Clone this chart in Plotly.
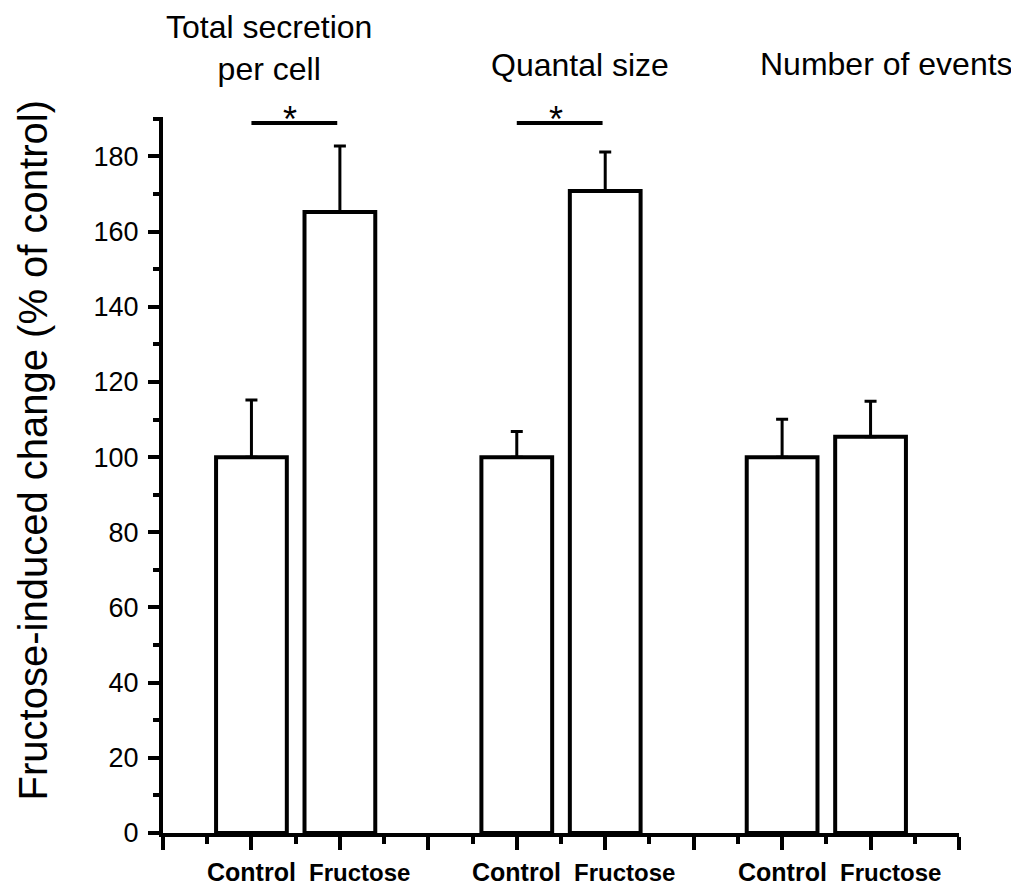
import plotly.graph_objects as go

# ---- data ----
groups = ["Total secretion<br>per cell", "Quantal size", "Number of events"]
conditions = ["Control", "Fructose"]
control_vals = [100, 100, 100]
fructose_vals = [165.2, 170.8, 105.4]
control_err = [15.2, 6.8, 10.1]
fructose_err = [17.6, 10.4, 9.5]
sig_groups = [0, 1]          # groups with significant difference
sig_level = 188.9            # height of significance bar
y_ticks = list(range(0, 181, 20))

# ---- positions ----
group_pos = [1 + 3 * g for g in range(len(groups))]
x_ctrl = [p for p in group_pos]
x_fru = [p + 1 for p in group_pos]

FONT = "Liberation Sans, Arial, sans-serif"

fig = go.Figure()
xs, ys, es = [], [], []
for g in range(len(groups)):
    xs += [x_ctrl[g], x_fru[g]]
    ys += [control_vals[g], fructose_vals[g]]
    es += [control_err[g], fructose_err[g]]

fig.add_trace(go.Bar(
    x=xs, y=ys, width=0.8,
    marker=dict(color="white", line=dict(color="black", width=4)),
    error_y=dict(type="data", symmetric=False, array=es, arrayminus=[0] * len(es),
                 color="black", thickness=3, width=6),
    showlegend=False, hoverinfo="skip",
))

annotations = []
# category labels under the bars
for g in range(len(groups)):
    annotations.append(dict(x=x_ctrl[g], y=-0.0545, xref="x", yref="paper", text=conditions[0],
                            showarrow=False, yanchor="middle",
                            font=dict(family=FONT, size=25, color="black", weight="bold")))
    annotations.append(dict(x=x_fru[g] + 0.22, y=-0.0545, xref="x", yref="paper", text=conditions[1],
                            showarrow=False, yanchor="middle",
                            font=dict(family=FONT, size=24, color="black", weight="bold")))

# group titles
title_x = [1.2, 4.72, 8.18]
title_y = [1.097, 1.0725, 1.0735]
for g in range(len(groups)):
    annotations.append(dict(x=title_x[g], y=title_y[g], xref="x", yref="paper", text=groups[g],
                            showarrow=False, yanchor="middle",
                            font=dict(family=FONT, size=32, color="black")))

# significance bars
shapes = []
for g in sig_groups:
    shapes.append(dict(type="line", xref="x", yref="y", x0=x_ctrl[g], x1=x_fru[g] - 0.03,
                       y0=sig_level, y1=sig_level, line=dict(color="black", width=4)))
    annotations.append(dict(x=(x_ctrl[g] + x_fru[g]) / 2 - 0.06, y=0.997, xref="x", yref="paper",
                            text="*", showarrow=False, yanchor="middle",
                            font=dict(family=FONT, size=36, color="black")))

# y axis title
annotations.append(dict(x=-0.164, y=0.535, xref="paper", yref="paper",
                        text="Fructose-induced change (% of control)", textangle=-90,
                        showarrow=False, xanchor="center", yanchor="middle",
                        font=dict(family=FONT, size=40, color="black")))

fig.update_layout(
    width=1019, height=890,
    margin=dict(l=155, r=68, t=109, b=65),
    plot_bgcolor="white", paper_bgcolor="white",
    annotations=annotations, shapes=shapes,
    xaxis=dict(range=[0, 9], showline=True, linewidth=4, linecolor="black",
               ticks="outside", ticklen=13, tickwidth=4, tickcolor="black",
               tickmode="linear", tick0=0, dtick=1, showticklabels=False,
               showgrid=False, zeroline=False, fixedrange=True,
               minor=dict(ticks="outside", ticklen=7, tickwidth=4, tickcolor="black",
                          dtick=0.5, tick0=0, showgrid=False)),
    yaxis=dict(range=[0, 190.5], showline=True, linewidth=4, linecolor="black",
               ticks="outside", ticklen=11, tickwidth=4, tickcolor="black",
               tickvals=y_ticks, ticktext=[str(v) for v in y_ticks],
               tickfont=dict(family=FONT, size=27, color="black"),
               ticklabelstandoff=4,
               showgrid=False, zeroline=False, fixedrange=True,
               minor=dict(ticks="outside", ticklen=6, tickwidth=4, tickcolor="black",
                          dtick=10, tick0=0, showgrid=False)),
)

fig.write_html("out.html")
